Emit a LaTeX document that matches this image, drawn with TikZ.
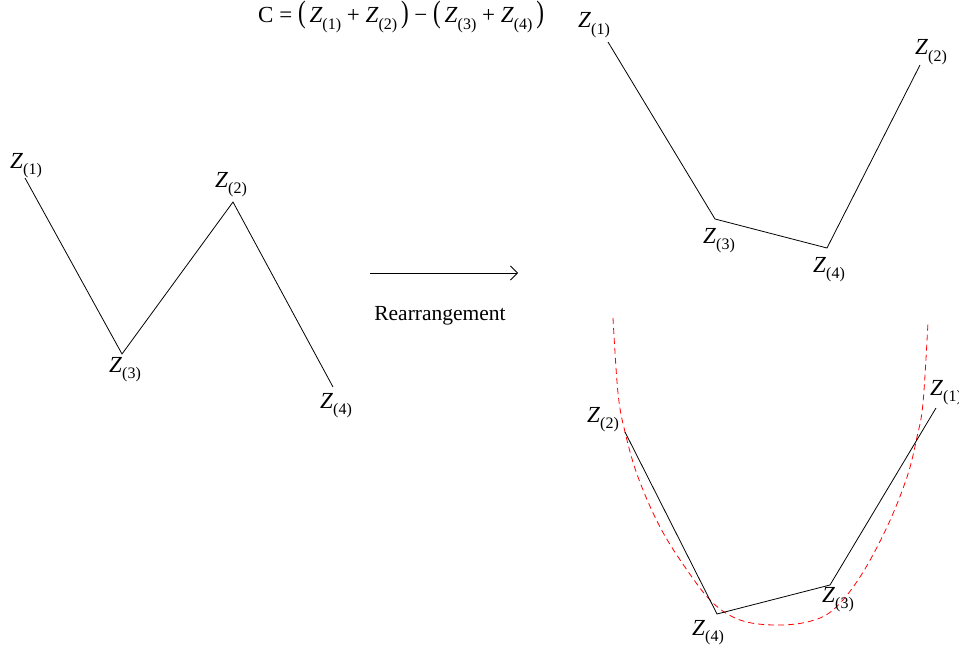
\documentclass[tikz,border=0pt]{standalone}
\usepackage{fontspec}
\setmainfont{Liberation Serif}
\usetikzlibrary{arrows.meta}
\newcommand\zlab[1]{\textit{Z}\raisebox{-0.28em}{\fontsize{16}{16}\selectfont(#1)}}
\newcommand\bigpar[1]{\scalebox{1}[1.35]{#1}}
\tikzset{
  lbl/.style={anchor=base west, inner sep=0pt, font=\fontsize{23}{25}\selectfont},
  seg/.style={draw=black, line width=0.8pt},
  fit/.style={draw=red, dashed, line width=0.8pt, dash pattern=on 6pt off 4pt},
}
\begin{document}
\begin{tikzpicture}[x=1pt,y=-1pt]
\useasboundingbox (0,0) rectangle (959,650);
% formula
\node[anchor=base west, inner sep=0pt, font=\fontsize{23}{24}\selectfont] (formula) at (258,23)
  {C = \bigpar{(}\,\zlab{1} + \zlab{2}\,\bigpar{)} \char"2212{} \bigpar{(}\,\zlab{3} + \zlab{4}\,\bigpar{)}};
% left zigzag
\coordinate (a1) at (25,178);
\coordinate (a3) at (122,354);
\coordinate (a2) at (233,202);
\coordinate (a4) at (333,387);
\draw[seg] (a1) -- (a3) -- (a2) -- (a4);
\node[lbl] (la1) at (10,168) {\zlab{1}};
\node[lbl] (la2) at (215,187) {\zlab{2}};
\node[lbl] (la3) at (109,372) {\zlab{3}};
\node[lbl] (la4) at (320,408) {\zlab{4}};
% arrow
\coordinate (arrS) at (370,273);
\coordinate (arrE) at (518,273);
\draw[line width=0.8pt, -{Straight Barb[length=7pt,width=14pt]}] (arrS) -- (arrE);
\node[anchor=base, inner sep=0pt, font=\fontsize{21.5}{24}\selectfont] (rearr) at (440,320) {Rearrangement};
% top right
\coordinate (b1) at (608,42);
\coordinate (b3) at (715,219);
\coordinate (b4) at (827,248);
\coordinate (b2) at (920,65);
\draw[seg] (b1) -- (b3) -- (b4) -- (b2);
\node[lbl] (lb1) at (578,28) {\zlab{1}};
\node[lbl] (lb2) at (915,55) {\zlab{2}};
\node[lbl] (lb3) at (703,243) {\zlab{3}};
\node[lbl] (lb4) at (813,272) {\zlab{4}};
% bottom right
\draw[fit] plot[smooth, tension=0.6] coordinates {(613,318) (618,393) (625,432) (638,477) (660,527) (687,570) (713,603) (740,620) (773,625) (807,622) (833,610) (860,577) (887,527) (907,477) (917,437) (923,403) (928,322)};
\coordinate (c2) at (625,432);
\coordinate (c4) at (717,614);
\coordinate (c3) at (830,585);
\coordinate (c1) at (936,408);
\draw[seg] (c2) -- (c4) -- (c3) -- (c1);
\node[lbl] (lc2) at (587,422) {\zlab{2}};
\node[lbl] (lc1) at (930,395) {\zlab{1}};
\node[lbl] (lc3) at (822,602) {\zlab{3}};
\node[lbl] (lc4) at (692,635) {\zlab{4}};
\end{tikzpicture}
\end{document}
